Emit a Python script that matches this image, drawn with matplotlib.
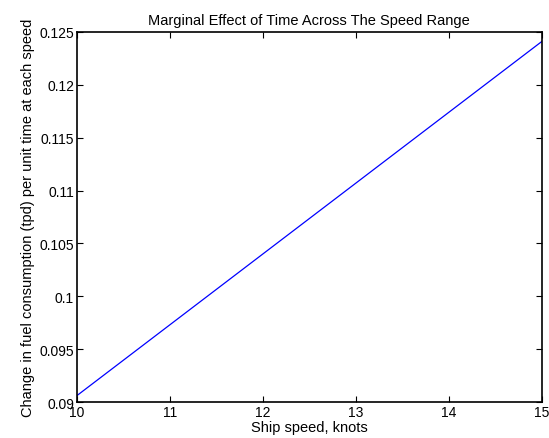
import matplotlib
matplotlib.use("Agg")
import matplotlib.pyplot as plt
import numpy as np

# data (straight line)
speed = [10, 15]
marginal = [0.0906, 0.1241]

xticks = [10, 11, 12, 13, 14, 15]
yticks = [0.09, 0.095, 0.1, 0.105, 0.11, 0.115, 0.12, 0.125]
yticklabels = ["0.09", "0.095", "0.1", "0.105", "0.11", "0.115", "0.12", "0.125"]

plt.rcParams["font.family"] = ["Liberation Sans", "DejaVu Sans"]

fig = plt.figure(figsize=(5.49, 4.39), dpi=100)
ax = fig.add_axes([0.140, 0.082, 0.847, 0.843])

ax.plot(speed, marginal, color="blue", linewidth=0.9)

ax.set_xlim(10, 15)
ax.set_ylim(0.09, 0.125)
ax.set_xticks(xticks)
ax.set_yticks(yticks)
ax.set_yticklabels(yticklabels)
ax.tick_params(direction="in", top=True, right=True, length=4, labelsize=10, pad=2)
for s in ax.spines.values():
    s.set_linewidth(1.2)

ax.set_title("Marginal Effect of Time Across The Speed Range", fontsize=10.5, pad=6)
ax.set_xlabel("Ship speed, knots", fontsize=10.5, labelpad=1)
ax.set_ylabel("Change in fuel consumption (tpd) per unit time at each speed", fontsize=10.5, labelpad=3)

fig.savefig("out.png", dpi=100)
